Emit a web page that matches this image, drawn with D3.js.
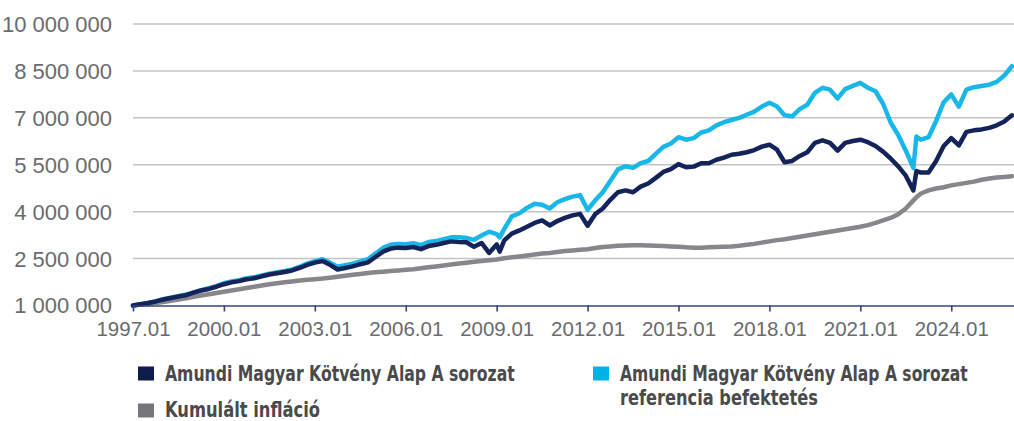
<!DOCTYPE html>
<html>
<head>
<meta charset="utf-8">
<script src="https://cdn.jsdelivr.net/npm/d3@7"></script>
<style>
html,body{margin:0;padding:0;background:#fff;}
svg{display:block;}
</style>
</head>
<body>
<svg id="chart" width="1014" height="421"></svg>
<script>
// Observation dates (decimal years, mostly quarterly)
const dates = [
1997.00,1997.25,1997.50,1997.75,1998.00,1998.25,1998.50,1998.75,1999.00,1999.25,1999.50,1999.75,
2000.00,2000.25,2000.50,2000.75,2001.00,2001.25,2001.50,2001.75,2002.00,2002.25,2002.50,2002.75,
2003.00,2003.25,2003.50,2003.75,2004.00,2004.25,2004.50,2004.75,2005.00,2005.25,2005.50,2005.75,
2006.00,2006.25,2006.50,2006.75,2007.00,2007.25,2007.50,2007.75,2008.00,2008.25,2008.50,2008.75,
2009.00,2009.10,2009.25,2009.50,2009.75,2010.00,2010.25,2010.50,2010.75,2011.00,2011.25,2011.50,2011.75,
2012.00,2012.25,2012.50,2012.75,2013.00,2013.25,2013.50,2013.75,2014.00,2014.25,2014.50,2014.75,
2015.00,2015.25,2015.50,2015.75,2016.00,2016.25,2016.50,2016.75,2017.00,2017.25,2017.50,2017.75,
2018.00,2018.25,2018.50,2018.75,2019.00,2019.25,2019.50,2019.75,2020.00,2020.25,2020.50,2020.75,
2021.00,2021.25,2021.50,2021.75,2022.00,2022.25,2022.50,2022.75,2022.85,2023.00,2023.25,2023.50,2023.75,
2024.00,2024.25,2024.50,2024.75,2025.00,2025.25,2025.50,2025.75,2026.00
];

// Amundi Magyar Kötvény Alap A sorozat (millió Ft)
const fundValues = [
1.00,1.04,1.08,1.13,1.19,1.24,1.29,1.33,1.41,1.48,1.53,1.60,
1.68,1.74,1.78,1.84,1.87,1.93,1.99,2.03,2.07,2.12,2.20,2.30,
2.37,2.42,2.30,2.15,2.20,2.25,2.32,2.38,2.55,2.72,2.82,2.85,
2.84,2.87,2.80,2.90,2.94,3.00,3.05,3.03,3.02,2.88,3.00,2.68,
2.95,2.72,3.08,3.30,3.40,3.52,3.64,3.72,3.56,3.70,3.80,3.88,3.93,
3.55,3.92,4.10,4.38,4.62,4.68,4.62,4.80,4.90,5.08,5.27,5.36,
5.52,5.42,5.44,5.55,5.55,5.66,5.73,5.82,5.85,5.90,5.97,6.08,
6.14,5.98,5.58,5.62,5.78,5.90,6.20,6.28,6.20,5.95,6.20,6.26,
6.30,6.22,6.10,5.92,5.70,5.45,5.15,4.68,5.30,5.25,5.25,5.62,6.10,
6.35,6.12,6.55,6.60,6.63,6.68,6.76,6.88,7.08
];

// Amundi Magyar Kötvény Alap A sorozat referencia befektetés
const benchValues = [
1.00,1.04,1.08,1.13,1.20,1.25,1.30,1.35,1.42,1.49,1.55,1.62,
1.71,1.77,1.81,1.87,1.90,1.96,2.02,2.06,2.10,2.15,2.24,2.34,
2.42,2.48,2.37,2.24,2.29,2.34,2.41,2.48,2.66,2.84,2.94,2.97,
2.96,2.99,2.93,3.03,3.06,3.12,3.18,3.18,3.16,3.10,3.24,3.36,
3.28,3.18,3.45,3.85,3.95,4.12,4.25,4.22,4.10,4.30,4.40,4.48,4.53,
4.06,4.36,4.62,4.98,5.35,5.45,5.40,5.55,5.62,5.85,6.07,6.18,
6.38,6.30,6.35,6.53,6.60,6.76,6.86,6.93,7.00,7.10,7.20,7.36,
7.48,7.36,7.08,7.05,7.28,7.42,7.80,7.96,7.90,7.62,7.92,8.02,
8.12,7.96,7.85,7.45,6.85,6.45,5.95,5.40,6.40,6.30,6.38,6.90,7.50,
7.75,7.36,7.90,7.98,8.02,8.06,8.15,8.35,8.65
];

// Kumulált infláció
const inflationValues = [
1.00,1.03,1.05,1.08,1.11,1.15,1.19,1.23,1.28,1.32,1.36,1.40,
1.44,1.48,1.52,1.56,1.60,1.64,1.68,1.71,1.74,1.77,1.80,1.82,
1.84,1.86,1.89,1.92,1.95,1.98,2.01,2.04,2.06,2.08,2.10,2.12,
2.14,2.16,2.19,2.22,2.25,2.28,2.31,2.34,2.37,2.40,2.42,2.45,
2.47,2.49,2.51,2.54,2.57,2.60,2.63,2.66,2.68,2.71,2.74,2.76,2.78,
2.80,2.84,2.87,2.89,2.91,2.92,2.93,2.93,2.92,2.91,2.90,2.89,
2.88,2.86,2.85,2.85,2.86,2.87,2.88,2.89,2.91,2.94,2.97,3.01,
3.05,3.09,3.12,3.16,3.20,3.24,3.28,3.32,3.36,3.40,3.44,3.48,
3.52,3.57,3.64,3.72,3.80,3.92,4.10,4.36,4.46,4.58,4.68,4.74,4.78,
4.84,4.88,4.92,4.96,5.02,5.06,5.09,5.11,5.13
];

const yTickValues = [1000000, 2500000, 4000000, 5500000, 7000000, 8500000, 10000000];
const xTickYears = [1997, 2000, 2003, 2006, 2009, 2012, 2015, 2018, 2021, 2024];
const xTickLabels = ["1997.01","2000.01","2003.01","2006.01","2009.01","2012.01","2015.01","2018.01","2021.01","2024.01"];

const seriesNames = [
  ["Amundi Magyar Kötvény Alap A sorozat"],
  ["Amundi Magyar Kötvény Alap A sorozat", "referencia befektetés"],
  ["Kumulált infláció"]
];
const seriesColors = ["#14235a", "#19b6e8", "#86878a"];
const legendColors = ["#0e1d4b", "#00b2e6", "#747679"];

// ---------- drawing ----------
const svg = d3.select("#chart");
const x = d3.scaleLinear().domain([1997, 2026.07]).range([133, 1014]);
const y = d3.scaleLinear().domain([1000000, 10000000]).range([305.5, 24]);

const locale = d3.formatLocale({decimal: ",", thousands: "\u00a0", grouping: [3], currency: ["", ""]});
const fmt = locale.format(",d");

// gridlines
svg.append("g")
  .selectAll("line")
  .data(yTickValues.filter(v => v > 1000000))
  .join("line")
  .attr("x1", 133).attr("x2", 1014)
  .attr("y1", d => y(d)).attr("y2", d => y(d))
  .attr("stroke", "#c3c3c3").attr("stroke-width", 1.5);

// y labels
svg.append("g")
  .selectAll("text")
  .data(yTickValues)
  .join("text")
  .attr("x", 112)
  .attr("y", d => y(d))
  .attr("dy", "0.36em")
  .attr("text-anchor", "end")
  .attr("font-family", "'Liberation Sans', Arial, sans-serif")
  .attr("font-size", 22)
  .attr("fill", "#6a6b6e")
  .text(d => fmt(d));

// lines
const toData = vals => dates.map((d, i) => ({t: d, v: vals[i] * 1000000}));
const line = d3.line().x(d => x(d.t)).y(d => y(d.v));
const order = [
  {vals: inflationValues, color: seriesColors[2]},
  {vals: benchValues, color: seriesColors[1]},
  {vals: fundValues, color: seriesColors[0]}
];
order.forEach(s => {
  svg.append("path")
    .datum(toData(s.vals))
    .attr("d", line)
    .attr("fill", "none")
    .attr("stroke", s.color)
    .attr("stroke-width", 4.5)
    .attr("stroke-linejoin", "round")
    .attr("stroke-linecap", "round");
});

// x axis
const xAxis = d3.axisBottom(x)
  .tickValues(xTickYears)
  .tickFormat((d, i) => xTickLabels[i])
  .tickSizeInner(6)
  .tickSizeOuter(0)
  .tickPadding(10);
const gx = svg.append("g").attr("transform", "translate(0,305.5)").call(xAxis);
gx.select(".domain").attr("stroke", "#34457a").attr("stroke-width", 1.6);
gx.selectAll(".tick line").attr("stroke", "#34457a").attr("stroke-width", 1.6);
gx.selectAll(".tick text")
  .attr("font-family", "'Liberation Sans', Arial, sans-serif")
  .attr("font-size", 20.5)
  .attr("fill", "#6a6b6e");

// legend
const legendFont = "'Liberation Sans Narrow', 'Arial Narrow', 'DejaVu Sans Condensed', sans-serif";
const legendItems = [
  {sx: 138, sy: 366.5, tx: 165, lines: [{y: 380.5, w: 350}], name: seriesNames[0], color: legendColors[0]},
  {sx: 593, sy: 366.5, tx: 620, lines: [{y: 380.5, w: 348}, {y: 405, w: 198}], name: seriesNames[1], color: legendColors[1]},
  {sx: 138, sy: 403.5, tx: 165, lines: [{y: 417, w: 155}], name: seriesNames[2], color: legendColors[2]}
];
const lg = svg.append("g");
legendItems.forEach(it => {
  lg.append("rect").attr("x", it.sx).attr("y", it.sy).attr("width", 16).attr("height", 14).attr("fill", it.color);
  it.name.forEach((txt, i) => {
    const t = lg.append("text")
      .attr("x", 0).attr("y", 0)
      .attr("font-family", legendFont)
      .attr("font-weight", "bold")
      .attr("font-size", 22)
      .attr("fill", "#4a4a4c")
      .text(txt);
    const natural = t.node().getComputedTextLength();
    const sx = it.lines[i].w / natural;
    t.attr("transform", `translate(${it.tx},${it.lines[i].y}) scale(${sx},1)`);
  });
});
</script>
</body>
</html>
